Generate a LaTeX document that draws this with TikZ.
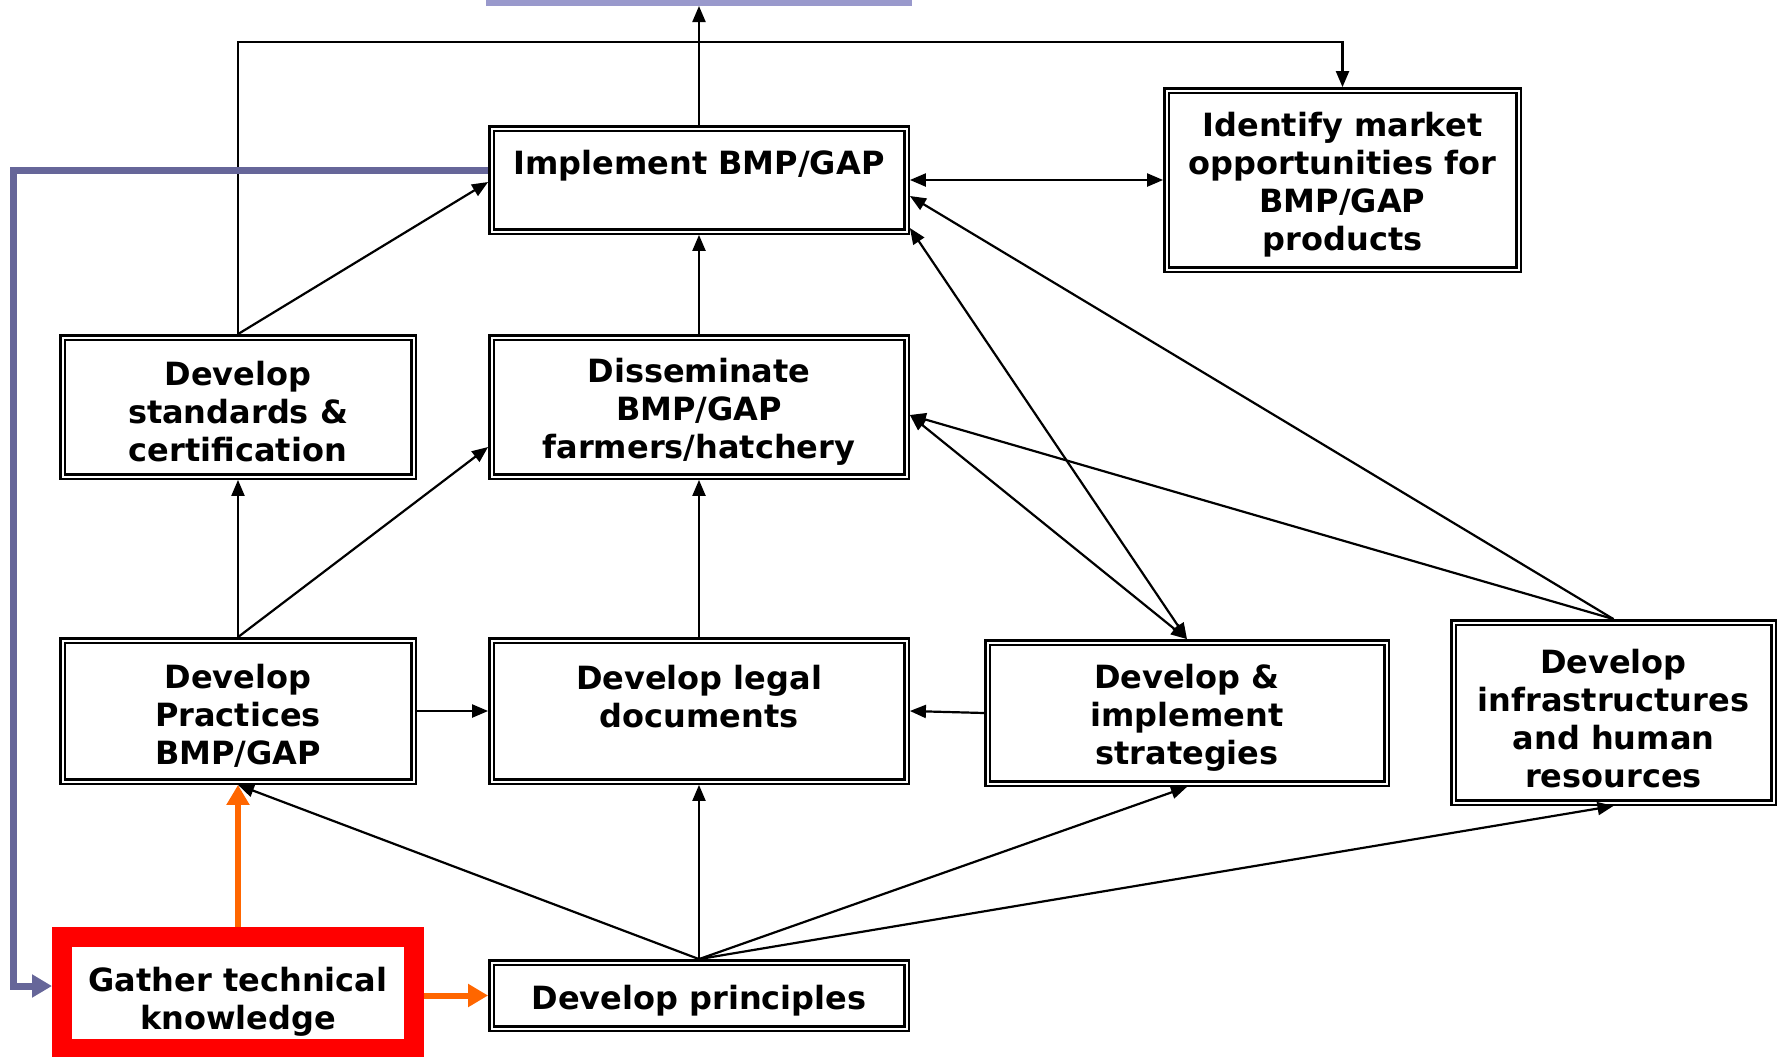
\documentclass[tikz,border=0pt]{standalone}
\usepackage{fontspec}
\setmainfont{DejaVu Sans}
\usetikzlibrary{arrows.meta,calc}

\definecolor{barblue}{HTML}{9999CC}
\definecolor{loopblue}{HTML}{666699}
\definecolor{hotorange}{HTML}{FF6600}
\definecolor{alertred}{HTML}{FF0000}

\begin{document}
\begin{tikzpicture}[x=0.5pt,y=-0.5pt,
  box/.style={draw=black, double=white, line width=1.2pt, double distance=1pt,
    rectangle, inner sep=0pt, outer sep=1.7pt},
  lbl/.style={font=\bfseries\fontsize{16}{19}\selectfont, align=center, inner sep=0pt},
  link/.style={line width=1.1pt, -{Triangle[length=8pt,width=6.5pt]}},
  twoway/.style={line width=1.1pt, {Triangle[length=8pt,width=6.5pt]}-{Triangle[length=8pt,width=6.5pt]}},
  hot/.style={draw=hotorange, line width=3pt, -{Triangle[length=10pt,width=11pt]}},
  feedback/.style={draw=loopblue, line width=3.5pt, -{Triangle[length=10pt,width=11pt]}}
]
\useasboundingbox (0,0) rectangle (1785,1056);

% target bar at the top edge
\node[fill=barblue, minimum width=213pt, minimum height=6pt, inner sep=0pt, outer sep=0pt] (topbar) at (699,0) {};

% boxes
\node[box, minimum width=207.5pt, minimum height=51.5pt] (impl)   at (699,180) {};
\node[box, minimum width=176pt,   minimum height=89.5pt] (ident)  at (1342.5,180) {};
\node[box, minimum width=175.5pt, minimum height=69.5pt] (stand)  at (238,407) {};
\node[box, minimum width=207.5pt, minimum height=69.5pt] (dissem) at (699,407) {};
\node[box, minimum width=175.5pt, minimum height=70.5pt] (pract)  at (238,711) {};
\node[box, minimum width=207.5pt, minimum height=70.5pt] (legal)  at (699,711) {};
\node[box, minimum width=199.5pt, minimum height=70.5pt] (strat)  at (1187,713) {};
\node[box, minimum width=160pt,   minimum height=90pt]   (infra)  at (1613.5,712.5) {};
\node[box, minimum width=207.5pt, minimum height=33pt]   (princ)  at (699,995.5) {};
\node[draw=alertred, line width=10pt, rectangle, inner sep=0pt, outer sep=5pt,
      minimum width=176pt, minimum height=56pt] (gather) at (238,993) {};

% labels
\node[lbl] (implT)   at (699,166)    {Implement BMP/GAP};
\node[lbl] (identT)  at (1342.5,185) {Identify market\\opportunities for\\BMP/GAP\\products};
\node[lbl] (standT)  at (238,412)    {Develop\\standards \&\\certification};
\node[lbl] (dissemT) at (699,412)    {Disseminate\\BMP/GAP\\farmers/hatchery};
\node[lbl] (practT)  at (238,716)    {Develop\\Practices\\BMP/GAP};
\node[lbl] (legalT)  at (699,697)    {Develop legal\\documents};
\node[lbl] (stratT)  at (1187,718)   {Develop \&\\implement\\strategies};
\node[lbl] (infraT)  at (1613.5,719) {Develop\\infrastructures\\and human\\resources};
\node[lbl] (princT)  at (699,1001)   {Develop principles};
\node[lbl] (gatherT) at (238,1002)   {Gather technical\\knowledge};

% connectors
\draw[link] (impl.north) -- (topbar.south);
\draw[link] (stand.north) -- (stand.north |- 0,42) -| (ident.north);
\draw[link] (stand.north) -- (impl.west |- 0,182);
\draw[twoway] (impl.east) -- (ident.west);
\draw[link] (dissem.north) -- (impl.south);
\draw[twoway] (strat.north) -- (impl.east |- 0,228);
\draw[twoway] (strat.north) -- (dissem.east |- 0,415);
\draw[link] (infra.north) -- (impl.east |- 0,196);
\draw[link] (infra.north) -- (dissem.east |- 0,415);
\draw[link] (pract.north) -- (stand.south);
\draw[link] (pract.north) -- (dissem.west |- 0,447);
\draw[link] (legal.north) -- (dissem.south);
\draw[link] (pract.east) -- (legal.west);
\draw[link] (strat.west) -- (legal.east);
\draw[link] (princ.north) -- (pract.south);
\draw[link] (princ.north) -- (legal.south);
\draw[link] (princ.north) -- (strat.south);
\draw[link] (princ.north) -- (infra.south);

% highlighted paths
\draw[hot] (gather.north) -- (pract.south);
\draw[hot] (gather.east |- princ.west) -- (princ.west);
\coordinate (bendA) at (13.5,170);
\coordinate (bendB) at (13.5,986);
\draw[feedback] (impl.west |- bendA) -- (bendA) -- (bendB) -- (gather.west |- bendB);
\end{tikzpicture}
\end{document}
